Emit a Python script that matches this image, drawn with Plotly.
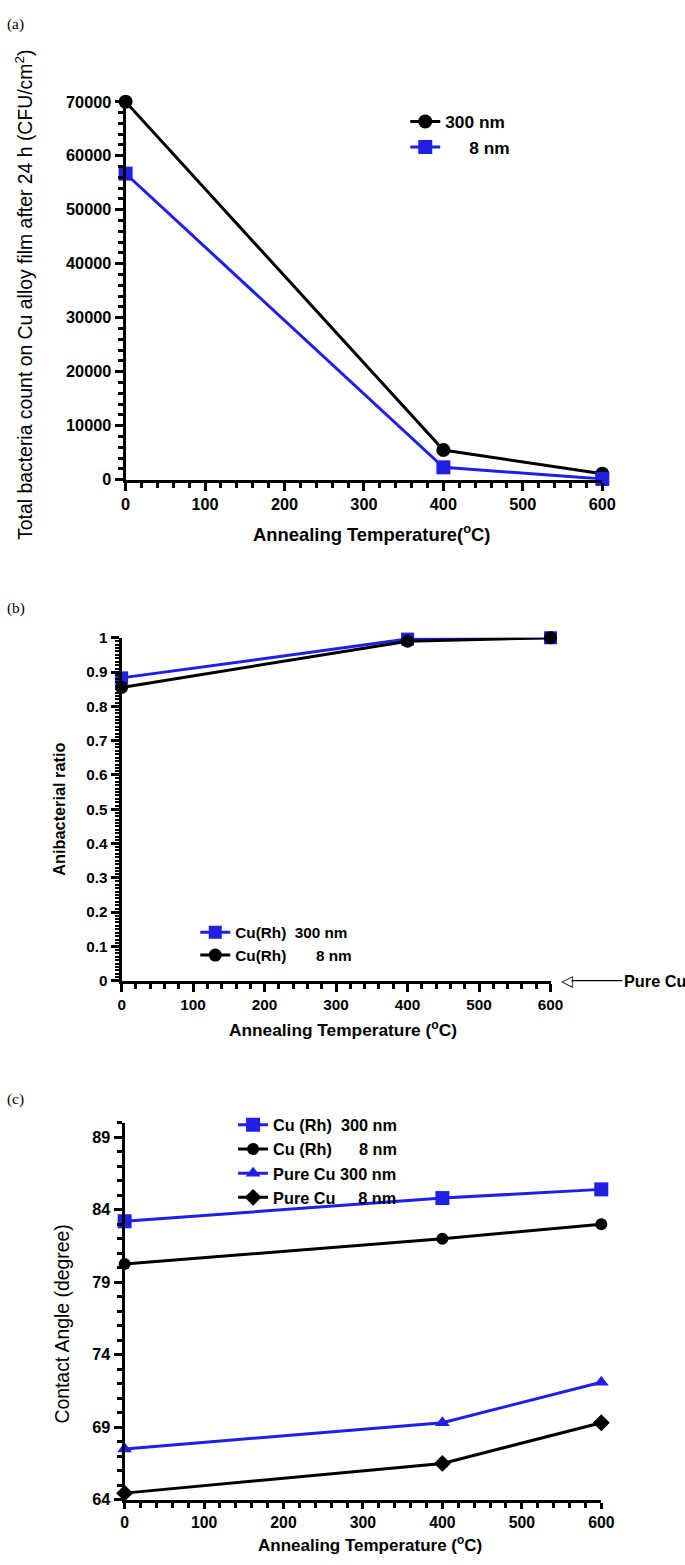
import plotly.graph_objects as go

# ---------------- data ----------------
temps = [0, 400, 600]

# (a) total bacteria count (CFU/cm2)
count_300nm = [70000, 5500, 1100]
count_8nm = [56700, 2300, 150]

# (b) antibacterial ratio
ratio_cu_rh_300 = [0.883, 0.996, 1.0]
ratio_cu_rh_8 = [0.855, 0.99, 1.0]

# (c) contact angle (degree)
angle_cu_rh_300 = [83.2, 84.8, 85.4]
angle_cu_rh_8 = [80.25, 82.0, 83.0]
angle_pure_300 = [67.5, 69.3, 72.1]
angle_pure_8 = [64.45, 66.5, 69.3]

names_a = ["300 nm", "\u00a0\u00a0\u00a0\u00a0\u00a08 nm"]
names_b = ["Cu(Rh)\u00a0\u00a0300 nm", "Cu(Rh)\u00a0\u00a0\u00a0\u00a0\u00a0\u00a0\u00a08 nm"]
names_c = ["Cu (Rh)\u00a0\u00a0300 nm", "Cu (Rh)\u00a0\u00a0\u00a0\u00a0\u00a0\u00a08 nm",
           "Pure Cu 300 nm", "Pure Cu\u00a0\u00a0\u00a0\u00a0\u00a08 nm"]

W, H = 685, 1565
FONT = "Liberation Sans, Arial, sans-serif"
BLUE = "#1f1fe6"
BLACK = "#000000"

# placement correction (target picture px -> figure px)
SX, OX = 0.977, 2.8
SY, OY = 0.9886, 8.2


def px_x(p):
    return ((p - OX) / SX) / W


def px_y(p):
    return max(0.0, min(1.0, 1 - ((p - OY) / SY) / H))


def fs(v):
    return round(v * 1.02, 1)


fig = go.Figure()

# (a)
fig.add_trace(go.Scatter(x=temps, y=count_300nm, name=names_a[0], mode="lines+markers",
                         line=dict(color=BLACK, width=3), marker=dict(symbol="circle", size=14, color=BLACK),
                         xaxis="x", yaxis="y", legend="legend", cliponaxis=False))
fig.add_trace(go.Scatter(x=temps, y=count_8nm, name=names_a[1], mode="lines+markers",
                         line=dict(color=BLUE, width=3), marker=dict(symbol="square", size=14, color=BLUE),
                         xaxis="x", yaxis="y", legend="legend", cliponaxis=False))

# (b)
fig.add_trace(go.Scatter(x=temps, y=ratio_cu_rh_300, name=names_b[0], mode="lines+markers",
                         line=dict(color=BLUE, width=3), marker=dict(symbol="square", size=13, color=BLUE),
                         xaxis="x2", yaxis="y2", legend="legend2", cliponaxis=False))
fig.add_trace(go.Scatter(x=temps, y=ratio_cu_rh_8, name=names_b[1], mode="lines+markers",
                         line=dict(color=BLACK, width=3), marker=dict(symbol="circle", size=13, color=BLACK),
                         xaxis="x2", yaxis="y2", legend="legend2", cliponaxis=False))

# (c)
for yv, nm, col, sym, sz in [
    (angle_cu_rh_300, names_c[0], BLUE, "square", 14),
    (angle_cu_rh_8, names_c[1], BLACK, "circle", 12),
    (angle_pure_300, names_c[2], BLUE, "triangle-up", 13),
    (angle_pure_8, names_c[3], BLACK, "diamond", 13),
]:
    fig.add_trace(go.Scatter(x=temps, y=yv, name=nm, mode="lines+markers",
                             line=dict(color=col, width=3), marker=dict(symbol=sym, size=sz, color=col),
                             xaxis="x3", yaxis="y3", legend="legend3", cliponaxis=False))


def xax(domain, anchor, size, tlen=8):
    return dict(domain=domain, anchor=anchor, range=[0, 600], tickvals=[0, 100, 200, 300, 400, 500, 600],
                showline=True, linewidth=3, linecolor=BLACK, ticks="outside", ticklen=tlen, tickwidth=3,
                tickcolor=BLACK, showgrid=False, zeroline=False,
                tickfont=dict(family=FONT, size=fs(size), color=BLACK, weight="bold"),
                minor=dict(dtick=20, ticks="outside", ticklen=5, tickwidth=2.5, tickcolor=BLACK, showgrid=False))


def yax(domain, anchor, rng, dtick, mdtick, size, fmt=None, mlen=5, mwidth=2.5):
    d = dict(domain=domain, anchor=anchor, range=rng, dtick=dtick, tick0=rng[0],
             showline=True, linewidth=3, linecolor=BLACK, ticks="outside", ticklen=8, tickwidth=3,
             tickcolor=BLACK, showgrid=False, zeroline=False,
             tickfont=dict(family=FONT, size=fs(size), color=BLACK, weight="bold"),
             minor=dict(dtick=mdtick, tick0=rng[0], ticks="outside", ticklen=mlen, tickwidth=mwidth,
                        tickcolor=BLACK, showgrid=False))
    if fmt:
        d["tickformat"] = fmt
    return d


legend_common = dict(xanchor="left", yanchor="top", bgcolor="rgba(0,0,0,0)", borderwidth=0,
                     tracegroupgap=0)

fig.update_layout(
    width=W, height=H, autosize=False, margin=dict(l=0, r=0, t=0, b=0),
    paper_bgcolor="white", plot_bgcolor="white",
    font=dict(family=FONT, color=BLACK),
    xaxis=xax([px_x(124), px_x(603)], "y", 16),
    yaxis=yax([px_y(479), px_y(101)], "x", [0, 70000], 10000, 2000, 16, fmt="d"),
    xaxis2=xax([px_x(120), px_x(551)], "y2", 15),
    yaxis2=yax([px_y(980), px_y(637)], "x2", [0, 1], 0.1, 0.01, 15, mlen=4, mwidth=1.5),
    xaxis3=xax([px_x(123), px_x(602)], "y3", 15.5, tlen=6),
    yaxis3=yax([px_y(1499), px_y(1122)], "x3", [64, 90], 5, 1, 16),
    legend=dict(x=px_x(405), y=px_y(103), font=dict(family=FONT, size=fs(17), weight="bold"), **legend_common),
    legend2=dict(x=px_x(194), y=px_y(915), font=dict(family=FONT, size=fs(15), weight="bold"), **legend_common),
    legend3=dict(x=px_x(232), y=px_y(1107), font=dict(family=FONT, size=fs(16), weight="bold"), **legend_common),
    showlegend=True,
)
fig.layout.yaxis3.tickvals = [64, 69, 74, 79, 84, 89]

ann = []
# panel labels
for txt, y in [("(a)", 12), ("(b)", 607), ("(c)", 1098)]:
    ann.append(dict(text=txt, x=0, y=px_y(y), xref="paper", yref="paper", xanchor="left",
                    yanchor="top" if y < 20 else "middle",
                    showarrow=False, font=dict(family="Liberation Serif, Times New Roman, serif", size=fs(15))))

# axis titles
title_bold = dict(family=FONT, size=fs(18), weight="bold", color=BLACK)
ann += [
    dict(text="Annealing Temperature(<sup>o</sup>C)", x=px_x(371), y=px_y(532), font=title_bold),
    dict(text="Annealing Temperature (<sup>o</sup>C)", x=px_x(342), y=px_y(1028),
         font=dict(family=FONT, size=fs(17), weight="bold", color=BLACK)),
    dict(text="Total bacteria count on Cu alloy film after 24 h (CFU/cm<sup>2</sup>)", x=px_x(22), y=px_y(294),
         textangle=-90, font=dict(family=FONT, size=fs(19), color=BLACK)),
    dict(text="Anibacterial ratio", x=px_x(57), y=px_y(808), textangle=-90,
         font=dict(family=FONT, size=fs(16), weight="bold", color=BLACK)),
    dict(text="Contact Angle (degree)", x=px_x(60), y=px_y(1323), textangle=-90,
         font=dict(family=FONT, size=fs(19), color=BLACK)),
]
for a in ann[3:]:
    a.update(xref="paper", yref="paper", xanchor="center", yanchor="middle", showarrow=False)
# bottom title sits on the lower edge
ann.append(dict(text="Annealing Temperature (<sup>o</sup>C)", x=px_x(370), y=0, xref="paper", yref="paper",
                xanchor="center", yanchor="bottom", showarrow=False, borderpad=0,
                font=dict(family=FONT, size=17, weight="bold", color=BLACK)))

# Pure Cu arrow
tail = (622 - OX) / SX
tip = (572 - OX) / SX
ann.append(dict(text="<b>Pure Cu</b>", x=px_x(572), y=px_y(980), xref="paper", yref="paper",
                ax=round(tail - tip), ay=0, xanchor="left", yanchor="middle", showarrow=True, arrowhead=0,
                arrowwidth=1.2, arrowcolor=BLACK, font=dict(family=FONT, size=fs(16), color=BLACK)))
ann.append(dict(text="\u25c1", x=px_x(568), y=px_y(980), xref="paper", yref="paper", xanchor="center",
                yanchor="middle", showarrow=False, font=dict(family="DejaVu Sans", size=fs(15), color=BLACK)))

fig.update_layout(annotations=ann)

reset_css = ("var s=document.createElement('style');"
             "s.textContent='html,body{margin:0;padding:0;overflow:hidden;}';"
             "document.head.appendChild(s);")
fig.write_html("out.html", config={"displayModeBar": False, "responsive": False}, post_script=reset_css)
